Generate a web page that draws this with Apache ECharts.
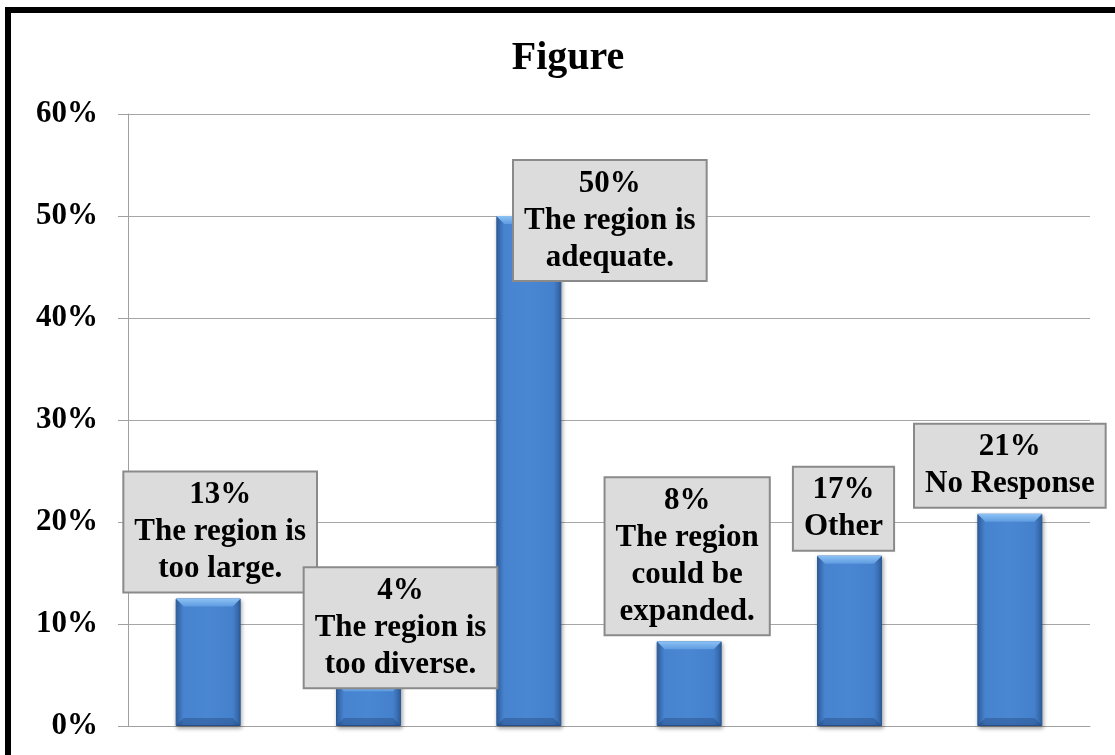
<!DOCTYPE html>
<html>
<head>
<meta charset="utf-8">
<title>Figure</title>
<script src="https://cdn.jsdelivr.net/npm/echarts@6/dist/echarts.min.js"></script>
<style>
  html, body { margin: 0; padding: 0; background: #ffffff; }
  #chart { width: 1115px; height: 755px; }
</style>
</head>
<body>
<div id="chart"></div>
<script>
// Survey responses about the region (percent of respondents)
const categories = [
  'The region is\ntoo large.',
  'The region is\ntoo diverse.',
  'The region is\nadequate.',
  'The region\ncould be\nexpanded.',
  'Other',
  'No Response'
];
const values = [12.5, 4.2, 50, 8.3, 16.7, 20.8];
const yTicks = [0, 10, 20, 30, 40, 50, 60];

// Layout: shift of each callout box relative to the top of its bar
const labelShift = [[12, 0], [32, 11], [81, 71], [-2, 0], [-6, 1], [0, 0]];

const SERIF = "'Liberation Serif', 'Times New Roman', 'DejaVu Serif', serif";
const BAR_W = 65;

const chart = echarts.init(document.getElementById('chart'), null, { renderer: 'canvas' });

const barFill = new echarts.graphic.LinearGradient(0, 0, 1, 0, [
  { offset: 0, color: '#3363a6' },
  { offset: 0.12, color: '#4783cf' },
  { offset: 0.5, color: '#4a87d3' },
  { offset: 0.88, color: '#4480cb' },
  { offset: 1, color: '#30609f' }
]);

chart.setOption({
  animation: false,
  backgroundColor: '#ffffff',
  title: {
    text: 'Figure',
    left: 563,
    top: 34,
    textAlign: 'center',
    textStyle: { fontFamily: SERIF, fontWeight: 'bold', fontSize: 40, color: '#000000' }
  },
  grid: { left: 128, right: 25, top: 114, bottom: 29, containLabel: false },
  xAxis: {
    type: 'category',
    data: categories,
    axisLine: { show: true, lineStyle: { color: '#a0a0a0', width: 1 } },
    axisTick: { show: false },
    axisLabel: { show: false },
    splitLine: { show: false }
  },
  yAxis: {
    type: 'value',
    min: yTicks[0],
    max: yTicks[yTicks.length - 1],
    interval: yTicks[1] - yTicks[0],
    axisLine: { show: true, lineStyle: { color: '#a0a0a0', width: 1 } },
    axisTick: { show: true, length: 10, lineStyle: { color: '#a0a0a0', width: 1 } },
    axisLabel: {
      margin: 30,
      formatter: '{value}%',
      fontFamily: SERIF, fontWeight: 'bold', fontSize: 31, color: '#000000'
    },
    splitLine: { show: true, lineStyle: { color: '#a6a6a6', width: 1 } }
  },
  series: [
    {
      type: 'bar',
      barWidth: BAR_W,
      z: 2,
      data: values,
      itemStyle: {
        color: barFill,
        borderColor: '#2c5a96',
        borderWidth: 1,
        shadowColor: 'rgba(0,0,0,0.35)',
        shadowBlur: 4,
        shadowOffsetX: 1,
        shadowOffsetY: 2
      }
    },
    {
      // bevel highlights on the top and bottom of each bar
      type: 'custom',
      z: 3,
      silent: true,
      data: values.map((v, i) => [i, v]),
      renderItem: function (params, api) {
        const top = api.coord([api.value(0), api.value(1)]);
        const base = api.coord([api.value(0), 0]);
        const half = BAR_W / 2;
        const b = Math.min(8, (base[1] - top[1]) / 2);
        const x0 = top[0] - half, x1 = top[0] + half;
        return {
          type: 'group',
          children: [
            {
              type: 'polygon',
              shape: { points: [[x0, top[1]], [x1, top[1]], [x1 - b, top[1] + b], [x0 + b, top[1] + b]] },
              style: {
                fill: new echarts.graphic.LinearGradient(0, 0, 0, 1, [
                  { offset: 0, color: '#8cc2f5' },
                  { offset: 1, color: '#5f9be0' }
                ])
              }
            },
            {
              type: 'polygon',
              shape: { points: [[x0, base[1]], [x1, base[1]], [x1 - b, base[1] - b], [x0 + b, base[1] - b]] },
              style: { fill: 'rgba(30,60,110,0.35)' }
            }
          ]
        };
      }
    },
    {
      // callout boxes: value and answer text above each bar
      type: 'bar',
      barWidth: BAR_W,
      barGap: '-100%',
      z: 5,
      silent: true,
      itemStyle: { color: 'rgba(0,0,0,0)' },
      data: values.map((v, i) => ({
        value: v,
        label: { offset: labelShift[i] }
      })),
      label: {
        show: true,
        position: 'top',
        distance: 7,
        formatter: p => Math.round(p.value) + '%\n' + categories[p.dataIndex],
        fontFamily: SERIF,
        fontWeight: 'bold',
        fontSize: 31,
        lineHeight: 37,
        color: '#000000',
        align: 'center',
        backgroundColor: '#dcdcdc',
        borderColor: '#8a8a8a',
        borderWidth: 2,
        padding: [4, 10, 4, 10]
      }
    }
  ],
  graphic: [
    {
      type: 'rect',
      silent: true,
      z: 100,
      shape: { x: 8, y: 10, width: 1200, height: 800 },
      style: { fill: 'none', stroke: '#000000', lineWidth: 6 }
    }
  ]
});
</script>
</body>
</html>
